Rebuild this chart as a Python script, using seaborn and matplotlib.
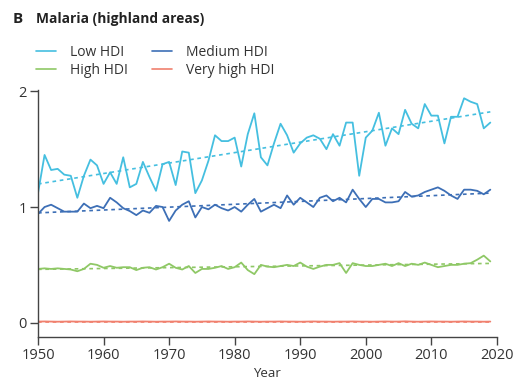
import numpy as np
import pandas as pd
import matplotlib
matplotlib.use("Agg")
import matplotlib.pyplot as plt
from matplotlib.lines import Line2D
import seaborn as sns

years = list(range(1950, 2020))

low_hdi = [1.12, 1.45, 1.32, 1.33, 1.28, 1.27, 1.08, 1.27, 1.41, 1.36,
           1.20, 1.30, 1.20, 1.43, 1.17, 1.20, 1.39, 1.26, 1.14, 1.37,
           1.39, 1.19, 1.48, 1.47, 1.12, 1.23, 1.40, 1.62, 1.57, 1.57,
           1.60, 1.35, 1.63, 1.81, 1.43, 1.36, 1.55, 1.72, 1.62, 1.47,
           1.55, 1.60, 1.62, 1.59, 1.50, 1.63, 1.53, 1.73, 1.73, 1.27,
           1.60, 1.66, 1.815, 1.53, 1.68, 1.63, 1.84, 1.72, 1.68, 1.89,
           1.79, 1.79, 1.55, 1.78, 1.78, 1.94, 1.91, 1.89, 1.68, 1.73]

medium_hdi = [0.94, 1.00, 1.02, 0.99, 0.96, 0.96, 0.96, 1.03, 0.99, 1.01,
              0.99, 1.08, 1.04, 0.99, 0.965, 0.93, 0.97, 0.95, 1.01, 1.00,
              0.88, 0.97, 1.02, 1.05, 0.91, 1.00, 0.98, 1.02, 0.99, 0.97,
              1.00, 0.96, 1.02, 1.07, 0.96, 0.99, 1.02, 0.99, 1.10, 1.02,
              1.08, 1.04, 1.00, 1.08, 1.10, 1.05, 1.08, 1.04, 1.15, 1.07,
              1.00, 1.07, 1.07, 1.04, 1.04, 1.05, 1.13, 1.09, 1.10, 1.13,
              1.15, 1.17, 1.14, 1.10, 1.07, 1.15, 1.15, 1.14, 1.11, 1.15]

high_hdi = [0.465, 0.47, 0.465, 0.47, 0.465, 0.46, 0.445, 0.465, 0.51, 0.50,
            0.475, 0.49, 0.475, 0.48, 0.48, 0.455, 0.475, 0.48, 0.46, 0.48,
            0.51, 0.475, 0.46, 0.49, 0.43, 0.465, 0.465, 0.475, 0.49, 0.465,
            0.48, 0.52, 0.455, 0.42, 0.50, 0.485, 0.48, 0.49, 0.50, 0.49,
            0.52, 0.485, 0.465, 0.485, 0.50, 0.50, 0.515, 0.43, 0.515, 0.50,
            0.49, 0.49, 0.50, 0.51, 0.49, 0.515, 0.49, 0.51, 0.50, 0.52,
            0.50, 0.48, 0.49, 0.50, 0.50, 0.51, 0.515, 0.545, 0.58, 0.53]

very_high_hdi = [0.010, 0.011, 0.010, 0.009, 0.010, 0.011, 0.010, 0.010, 0.009, 0.010,
                 0.011, 0.010, 0.010, 0.009, 0.010, 0.010, 0.011, 0.010, 0.009, 0.010,
                 0.010, 0.011, 0.010, 0.010, 0.009, 0.010, 0.011, 0.010, 0.010, 0.009,
                 0.010, 0.010, 0.011, 0.010, 0.009, 0.010, 0.010, 0.011, 0.010, 0.010,
                 0.009, 0.010, 0.011, 0.010, 0.010, 0.009, 0.010, 0.010, 0.011, 0.010,
                 0.010, 0.009, 0.010, 0.011, 0.010, 0.010, 0.012, 0.010, 0.009, 0.010,
                 0.011, 0.010, 0.010, 0.009, 0.010, 0.011, 0.010, 0.010, 0.009, 0.010]

series_names = ["Low HDI", "Medium HDI", "High HDI", "Very high HDI"]
series_colors = ["#45bfe0", "#3d6fb6", "#8fc866", "#f0806e"]
y_ticks = [0, 1, 2]
x_ticks = [1950, 1960, 1970, 1980, 1990, 2000, 2010, 2020]

sns.set_theme(style="white")
plt.rcParams["font.family"] = ["Open Sans", "DejaVu Sans"]

frames = []
for name, vals in zip(series_names, [low_hdi, medium_hdi, high_hdi, very_high_hdi]):
    frames.append(pd.DataFrame({"Year": years, "Value": vals, "Group": name}))
df = pd.concat(frames, ignore_index=True)

fig = plt.figure(figsize=(5.15, 3.87), dpi=100)
ax = fig.add_axes([0.0738, 0.129, 0.891, 0.638])

palette = dict(zip(series_names, series_colors))
sns.lineplot(data=df, x="Year", y="Value", hue="Group", palette=palette,
             hue_order=series_names, linewidth=1.3, ax=ax, legend=False)
for name in series_names:
    sub = df[df["Group"] == name]
    sns.regplot(data=sub, x="Year", y="Value", scatter=False, ci=None, ax=ax,
                color=palette[name],
                line_kws=dict(linestyle=(0, (2.2, 2.2)), linewidth=1.2))

ax.set_xlim(1950, 2020)
ax.set_ylim(-0.124, 2.01)
ax.set_xticks(x_ticks)
ax.set_yticks(y_ticks)
ax.set_xticklabels([str(t) for t in x_ticks], fontsize=10.5, color="#333333")
ax.set_yticklabels([str(t) for t in y_ticks], fontsize=10.5, color="#333333")
ax.set_xlabel("Year", fontsize=9.5, color="#333333", labelpad=3)
ax.set_ylabel("")
for s in ["top", "right"]:
    ax.spines[s].set_visible(False)
for s in ["left", "bottom"]:
    ax.spines[s].set_color("#444444")
    ax.spines[s].set_linewidth(1.0)
ax.tick_params(axis="both", which="major", direction="out", length=6, width=1.0,
               color="#444444", pad=2, left=True, bottom=True)

# legend order fills columns: col1 = Low, High ; col2 = Medium, Very high
order = [0, 2, 1, 3]
handles = [Line2D([0], [0], color=series_colors[i], lw=1.2) for i in order]
labels = [series_names[i] for i in order]
fig.legend(handles, labels, ncol=2, frameon=False, fontsize=10,
           loc="upper left", bbox_to_anchor=(0.046, 0.916),
           handlelength=1.4, handletextpad=1.0, columnspacing=1.8,
           labelspacing=0.2, labelcolor="#333333")

fig.text(0.024, 0.94, "B", fontsize=11, fontweight="bold", color="#222222")
fig.text(0.070, 0.94, "Malaria (highland areas)", fontsize=9.9,
         fontweight="bold", color="#222222")

fig.savefig("out.png", dpi=100)
